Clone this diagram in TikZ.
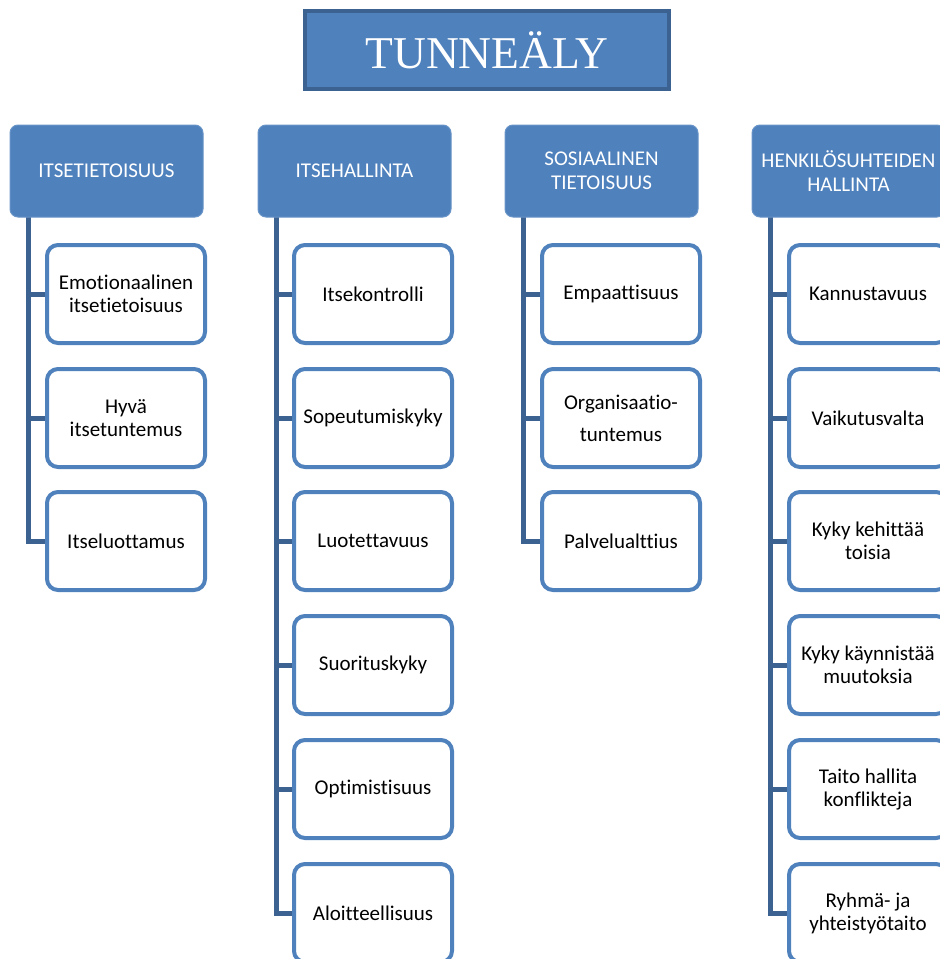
\documentclass[tikz,border=0pt]{standalone}
\usepackage{fontspec}
\setmainfont[Ligatures=NoCommon]{Carlito}
\newfontfamily\titlefont{Liberation Serif}
\usetikzlibrary{backgrounds}
\definecolor{accent}{HTML}{4F81BD}
\definecolor{dark}{HTML}{3C6291}
\tikzset{
  titlebox/.style={draw=dark, line width=4pt, fill=accent, minimum width=364pt, minimum height=78pt, inner sep=0pt, text=white, font=\titlefont\fontsize{45.5}{50}\selectfont},
  headbox/.style={draw=accent!85!white, line width=1pt, fill=accent, rounded corners=8pt, minimum width=193pt, minimum height=92pt, inner sep=0pt, text=white, align=center, font=\fontsize{21}{24}\selectfont},
  childbox/.style={draw=accent, line width=4pt, fill=white, rounded corners=11pt, minimum width=158pt, minimum height=98pt, inner sep=0pt, text=black, align=center, font=\fontsize{21}{23}\selectfont},
  conn/.style={draw=dark, line width=5pt}
}
\begin{document}
\begin{tikzpicture}[x=1pt,y=-1pt]
\useasboundingbox (0,0) rectangle (940,959);
% vertical connector start points
\coordinate (v1) at (28,215);
\coordinate (v2) at (276,215);
\coordinate (v3) at (523,215);
\coordinate (v4) at (770,215);
% title
\node[titlebox] (title) at (487,50) {TUNNEÄLY};
% headers
\node[headbox] (h1) at (106.5,171) {ITSETIETOISUUS};
\node[headbox] (h2) at (354.5,171) {ITSEHALLINTA};
\node[headbox] (h3) at (601.5,171) {SOSIAALINEN\\TIETOISUUS};
\node[headbox] (h4) at (848.5,171) {HENKILÖSUHTEIDEN\\HALLINTA};
% children column 1
\node[childbox] (c11) at (126,294) {Emotionaalinen\\itsetietoisuus};
\node[childbox] (c12) at (126,418) {Hyvä\\itsetuntemus};
\node[childbox] (c13) at (126,541) {Itseluottamus};
% column 2
\node[childbox] (c21) at (373,294) {Itsekontrolli};
\node[childbox] (c22) at (373,418) {Sopeutumiskyky};
\node[childbox] (c23) at (373,541) {Luotettavuus};
\node[childbox] (c24) at (373,665) {Suorituskyky};
\node[childbox] (c25) at (373,789) {Optimistisuus};
\node[childbox] (c26) at (373,913) {Aloitteellisuus};
% column 3
\node[childbox, font=\fontsize{21}{32}\selectfont] (c31) at (621,294) {Empaattisuus};
\node[childbox, font=\fontsize{21}{32}\selectfont] (c32) at (621,418) {Organisaatio-\\tuntemus};
\node[childbox] (c33) at (621,541) {Palvelualttius};
% column 4
\node[childbox] (c41) at (868,294) {Kannustavuus};
\node[childbox] (c42) at (868,418) {Vaikutusvalta};
\node[childbox] (c43) at (868,541) {Kyky kehittää\\toisia};
\node[childbox] (c44) at (868,665) {Kyky käynnistää\\muutoksia};
\node[childbox] (c45) at (868,789) {Taito hallita\\konflikteja};
\node[childbox] (c46) at (868,913) {Ryhmä- ja\\yhteistyötaito};
% connectors
\begin{scope}[on background layer]
\fill[white] (0,0) rectangle (940,959);
\foreach \c in {c11,c12,c13}{\draw[conn] (v1) |- (\c.west);}
\foreach \c in {c21,c22,c23,c24,c25,c26}{\draw[conn] (v2) |- (\c.west);}
\foreach \c in {c31,c32,c33}{\draw[conn] (v3) |- (\c.west);}
\foreach \c in {c41,c42,c43,c44,c45,c46}{\draw[conn] (v4) |- (\c.west);}
\end{scope}
\end{tikzpicture}
\end{document}
